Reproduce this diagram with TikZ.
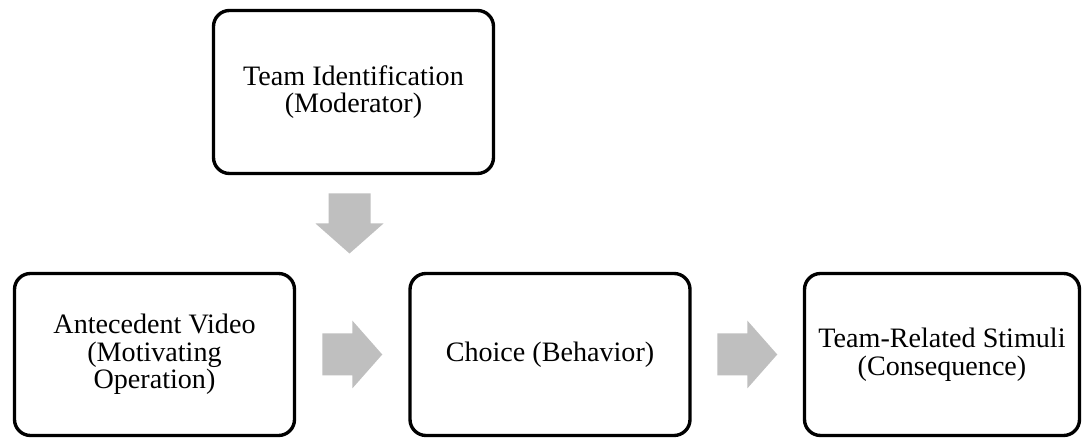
\documentclass[tikz,border=0pt]{standalone}
\usepackage{fontspec}
\setmainfont{Liberation Serif}
\usepackage{tikz}
\usetikzlibrary{calc}
\definecolor{arrowgray}{HTML}{BFBFBF}
\tikzset{
	blockarrow/.pic={
			\fill[arrowgray]
			(-0.75,-0.525) --
			(0,-0.525) --
			(0,-0.85) --
			(0.75,0) --
			(0,0.85) --
			(0,0.525) --
			(-0.75,0.525) --
			cycle;
		}
}
\tikzset{
	boxnode/.style={draw, line width=2.4pt, rounded corners=0.4cm, align=center,
			minimum width=7cm, minimum height=4.05cm, inner sep=0pt,
			font=\fontsize{20}{19.6}\selectfont}
}
\begin{document}
\begin{tikzpicture}

			\useasboundingbox (0,0) rectangle (27.075,10.975);

			\begin{scope}
				\coordinate (mT) at (8.8375,8.675);
				\coordinate (mA) at (3.8625,2.1125);
				\coordinate (mC) at (13.75,2.1125);
				\coordinate (mS) at (23.55,2.1125);
			\end{scope}

			\begin{scope}
				\node[boxnode, minimum height=4.075cm] (team) at (mT) {Team Identification\\(Moderator)};
				\node[boxnode] (ante) at (mA) {Antecedent Video\\(Motivating\\Operation)};
				\node[boxnode] (choice) at (mC) {Choice (Behavior)};
				\node[boxnode, minimum width=6.875cm] (stim) at (mS) {Team-Related Stimuli\\(Consequence)};
			\end{scope}

			\begin{scope}
				\pic at ($(ante.east)!0.5!(choice.west)$) {blockarrow};
				\pic at ($(choice.east)!0.5!(stim.west)$) {blockarrow};
				\pic[rotate=-90, yshift=-0.1cm] at ($(team.south)!0.5!(team.south|-choice.north)$) {blockarrow};
			\end{scope}

		\end{tikzpicture}
\end{document}
